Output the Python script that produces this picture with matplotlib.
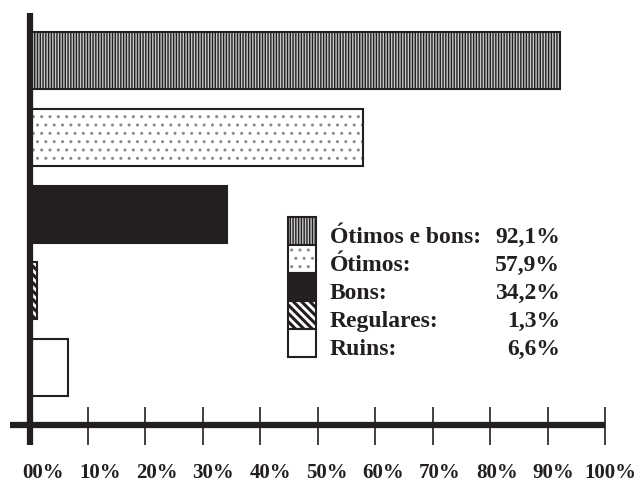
import matplotlib
matplotlib.use("Agg")
import matplotlib.pyplot as plt
from matplotlib.patches import Rectangle

# data
categories = ["Ótimos e bons:", "Ótimos:", "Bons:", "Regulares:", "Ruins:"]
values = [92.1, 57.9, 34.2, 1.3, 6.6]
value_labels = ["92,1%", "57,9%", "34,2%", "1,3%", "6,6%"]
tick_values = [0, 10, 20, 30, 40, 50, 60, 70, 80, 90, 100]
tick_labels = ["00%", "10%", "20%", "30%", "40%", "50%", "60%", "70%", "80%", "90%", "100%"]

# styles per category
faces = ["#c8c8c8", "white", "#231f20", "white", "white"]
hatch_cols = ["#231f20", "#8a8a8a", "#231f20", "#231f20", "#231f20"]
hatches = ["||||||", "..", None, "\\\\\\\\", None]
hatch_lw = [1.0, 1.0, 1.0, 2.2, 1.0]

plt.rcParams["font.family"] = ["Liberation Serif", "DejaVu Serif"]
plt.rcParams["font.weight"] = "bold"

W, H = 637, 484
fig = plt.figure(figsize=(W / 100, H / 100), dpi=100)
ax = fig.add_axes([0, 0, 1, 1])
PX = 5.75   # pixels per percent
X0 = 30     # pixel of 0%
ax.set_xlim(-X0 / PX, (W - X0) / PX)
ax.set_ylim(H, 0)
ax.axis("off")


def px(x):
    return (x - X0) / PX


def draw_box(x, y, w, h, i):
    with plt.rc_context({"hatch.linewidth": hatch_lw[i]}):
        r = Rectangle((x, y), w, h, facecolor=faces[i], hatch=hatches[i],
                      edgecolor=hatch_cols[i], linewidth=0)
        ax.add_patch(r)
    ax.add_patch(Rectangle((x, y), w, h, facecolor="none",
                           edgecolor="#231f20", linewidth=1.5))


# bars
for i, v in enumerate(values):
    top = 32 + i * 76.8
    draw_box(px(31), top, v - px(31), 57, i)

# axes lines
ax.plot([0, 0], [13, 445], color="#231f20", lw=4.5, solid_capstyle="butt")
ax.plot([px(10), 100], [425, 425], color="#231f20", lw=4.5, solid_capstyle="butt")
ax.vlines(tick_values[1:], 407, 445, color="#231f20", lw=1.2)

for i, lab in enumerate(tick_labels):
    ax.text(px(43.5 + i * 56.65), 478, lab, ha="center", va="baseline", fontsize=15,
            fontweight="bold", color="#231f20")

# legend
for i, (cat, lab) in enumerate(zip(categories, value_labels)):
    top = 217 + i * 28
    draw_box(px(288), top, px(316) - px(288), 28, i)
    ax.text(px(330), top + 26, cat, ha="left", va="baseline", fontsize=17,
            fontweight="bold", color="#231f20")
    ax.text(px(560), top + 26, lab, ha="right", va="baseline", fontsize=17,
            fontweight="bold", color="#231f20")

fig.savefig("out.png", dpi=100)
